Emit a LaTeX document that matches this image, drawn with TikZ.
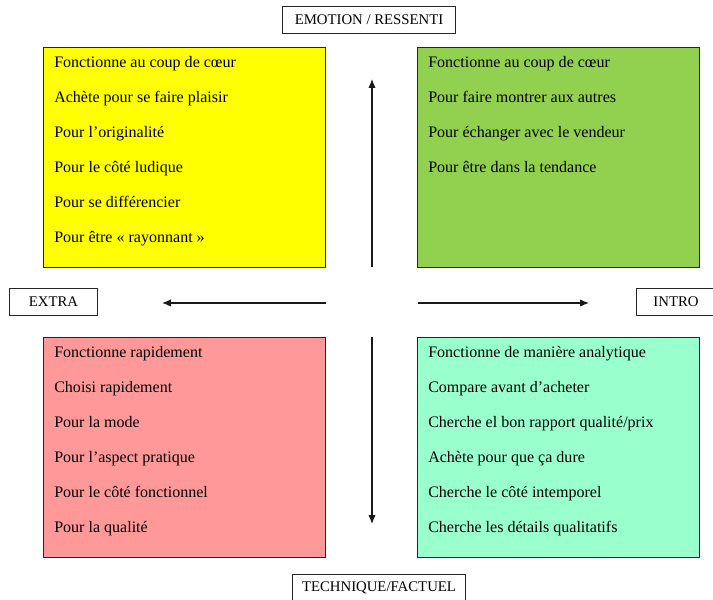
\documentclass[tikz,border=0pt]{standalone}
\usepackage{fontspec}
\setmainfont{Liberation Serif}
\usetikzlibrary{arrows.meta,positioning}

\definecolor{quadyellow}{HTML}{FFFF00}
\definecolor{quadgreen}{HTML}{92D050}
\definecolor{quadpink}{HTML}{FF9999}
\definecolor{quadmint}{HTML}{99FFCC}

\tikzset{
  quad/.style={shape=rectangle, draw=black!85, line width=0.7pt, outer sep=0pt,
               minimum width=7.05cm, minimum height=5.5cm, anchor=north west},
  axislabel/.style={shape=rectangle, draw=black!85, line width=0.7pt,
               minimum height=0.675cm, inner xsep=0pt, font=\fontsize{10.5}{12}\selectfont},
  item/.style={anchor=base west, inner sep=0pt, font=\fontsize{11.4}{13}\selectfont},
  axisarrow/.style={-{Latex[length=2.2mm,width=1.8mm]}, line width=0.75pt, black!90}
}

\begin{document}
\begin{tikzpicture}[x=0.025cm, y=-0.025cm]
\useasboundingbox (0,0) rectangle (713,600);

% Axis labels
\node [axislabel, minimum width=4.3cm] at (369,20) (emotion) {EMOTION / RESSENTI};
\node [axislabel, minimum width=4.3cm] at (379,588) (technique) {TECHNIQUE/FACTUEL};
\node [axislabel, minimum width=2.175cm] at (53.5,302) (extra) {EXTRA};
\node [axislabel, minimum width=2.0cm] at (676,302) (intro) {INTRO};

% Quadrants
\node [quad, fill=quadyellow] at (43,47)  (emo_extra) {};
\node [quad, fill=quadgreen]  at (417,47) (emo_intro) {};
\node [quad, fill=quadpink]   at (43,337) (tech_extra) {};
\node [quad, fill=quadmint]   at (417,337) (tech_intro) {};

\foreach \txt [count=\i] in {Fonctionne au coup de cœur, Achète pour se faire plaisir,
    Pour l’originalité, Pour le côté ludique, Pour se différencier, Pour être « rayonnant »}
  \node [item] at (54,{67+35*(\i-1)}) (ee\i) {\txt};

\foreach \txt [count=\i] in {Fonctionne au coup de cœur, Pour faire montrer aux autres,
    Pour échanger avec le vendeur, Pour être dans la tendance}
  \node [item] at (428,{67+35*(\i-1)}) (ei\i) {\txt};

\foreach \txt [count=\i] in {Fonctionne rapidement, Choisi rapidement, Pour la mode,
    Pour l’aspect pratique, Pour le côté fonctionnel, Pour la qualité}
  \node [item] at (54,{357+35*(\i-1)}) (te\i) {\txt};

\foreach \txt [count=\i] in {Fonctionne de manière analytique, Compare avant d’acheter,
    Cherche el bon rapport qualité/prix, Achète pour que ça dure,
    Cherche le côté intemporel, Cherche les détails qualitatifs}
  \node [item] at (428,{357+35*(\i-1)}) (ti\i) {\txt};

% Axes
\coordinate (up_from)    at (372,267);
\coordinate (up_to)      at (372,79);
\coordinate (down_from)  at (372,337);
\coordinate (down_to)    at (372,524);
\coordinate (left_from)  at (326,303);
\coordinate (left_to)    at (162,303);
\coordinate (right_from) at (418,303);
\coordinate (right_to)   at (589,303);

\draw [axisarrow] (up_from) -- (up_to);
\draw [axisarrow] (down_from) -- (down_to);
\draw [axisarrow] (left_from) -- (left_to);
\draw [axisarrow] (right_from) -- (right_to);

\end{tikzpicture}
\end{document}
